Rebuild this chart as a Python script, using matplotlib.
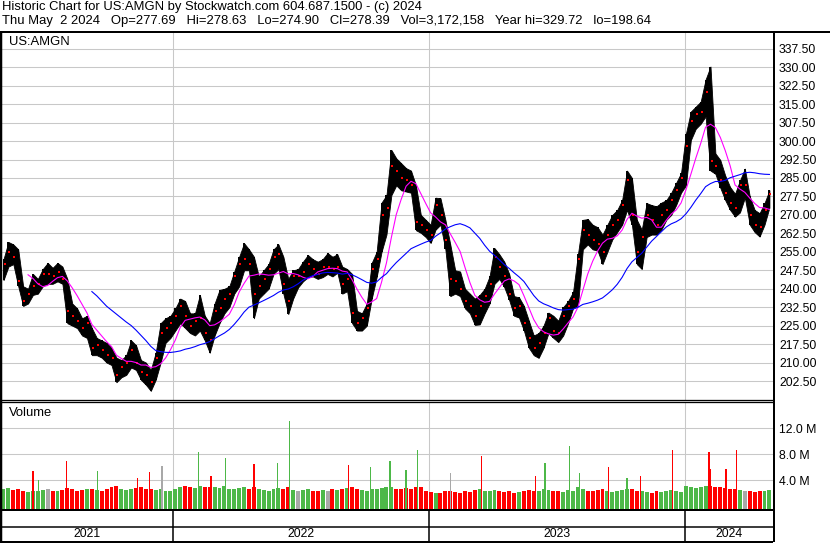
import matplotlib
matplotlib.use('Agg')
import matplotlib.pyplot as plt
import matplotlib.dates as mdates
from matplotlib.lines import Line2D
import numpy as np
import pandas as pd

# one bar per trading week, week of 2021-05-03 .. week of 2024-04-29
week_high = [252, 259, 258, 256, 241, 240, 246, 244, 248, 250.5,
             248.5, 250.5, 249, 244, 234, 232, 228, 229, 224, 220,
             219, 218, 216, 212, 211, 213, 219, 217, 211, 210,
             207, 214, 226, 228, 229, 232, 236, 235, 230, 230,
             237.5, 229, 226, 234, 239.5, 240, 241, 247, 253, 258.5,
             256, 253, 245, 247.5, 250, 256, 258, 253, 244, 247.5,
             248, 251, 253.7, 252, 251, 252, 254.5, 253, 254, 249,
             248, 246, 231, 230, 234, 250.5, 255, 275, 278, 296.4,
             293, 291, 289, 288, 282, 270, 268, 266, 277, 276.8,
             268, 258, 247.5, 247, 240, 238, 236, 237.5, 240, 245,
             256.5, 254, 251, 246, 237, 236.5, 233, 227, 221, 222,
             225, 230.3, 229, 227, 232.5, 235, 238.6, 254, 268, 268.3,
             266, 265, 262, 266, 270, 272, 276, 288, 285, 268,
             264, 274.8, 274, 273.5, 275, 276, 279, 283, 287, 303,
             312, 314, 316, 325, 330.3, 295, 292.3, 286, 281.3, 278.6,
             284, 288.8, 277.5, 272, 270.7, 274.8, 280]
week_low = [243.5, 249, 250, 241, 233, 234, 237.5, 238, 241, 242,
            242, 243, 242, 226, 225, 224, 221, 220, 213, 213,
            212, 210, 209, 202, 204, 205, 208, 207, 203, 201,
            198.5, 203, 210, 218, 220, 223, 226, 224, 222, 221,
            223, 219, 214, 221, 226, 230, 232.5, 238, 241, 247.5,
            247.5, 228, 236, 238, 240, 246, 248, 238, 229.7, 236,
            240.5, 243, 244.7, 245, 244, 244.7, 246, 245, 246.5, 238,
            239, 226, 223, 223, 225, 236, 244.7, 255, 262, 278,
            282, 280, 279.5, 279, 263.8, 262.7, 261, 258.6, 264, 266,
            256, 237, 238, 237, 232, 230, 225.3, 225.5, 230, 234,
            242, 244, 240.6, 235.4, 229, 228.3, 223, 216, 213, 211.9,
            216, 222, 220, 218.3, 221, 226, 232, 233, 256, 258,
            256, 255.5, 250, 255, 260, 263, 266, 272, 266, 250,
            248, 261, 262, 262, 264, 268, 270, 274, 279, 282,
            300.4, 305, 307, 310, 288, 286.7, 281, 276, 272, 269.3,
            271, 277, 266, 263, 261.2, 266, 273]
week_close = [250, 255, 253, 243, 235, 238, 241, 242, 246, 246,
              245, 247, 244, 231, 229, 227, 224, 226, 216, 217,
              215, 213, 212, 205, 208, 210, 215, 210, 206, 205,
              202, 212, 222, 224, 226, 229, 233, 229, 225, 227,
              228, 222, 219, 231, 232, 236, 238, 245, 250, 252,
              250, 238, 241, 244, 248, 253, 254, 242, 235, 245,
              245, 247, 250, 248, 246, 249, 249, 248, 249, 242,
              244, 230, 226, 228, 232, 248, 252, 270, 273, 290,
              288, 285, 284, 282, 267, 266, 264, 262, 274, 270,
              260, 244, 243, 240, 235, 233, 229, 233, 237, 242,
              253, 249, 245, 238, 232, 233, 226, 220, 216, 218,
              222, 228, 223, 222, 229, 233, 236, 252, 264, 262,
              260, 258, 255, 262, 266, 268, 274, 284, 270, 255,
              261, 270, 268, 266, 270, 272, 276, 280, 285, 298,
              308, 311, 312, 320, 292, 290, 284, 279, 275, 273,
              282, 282, 270, 266, 265, 272, 278.39]
# average daily volume of each week, millions
week_volume = [2.6, 2.8, 2.5, 2.7, 2.3, 2.2, 2.4, 2.3, 2.5, 2.6,
               2.4, 2.3, 2.5, 2.8, 2.6, 2.4, 2.5, 2.7, 2.6, 2.5,
               2.4, 2.6, 3.0, 3.1, 2.7, 2.5, 2.6, 2.8, 2.9, 2.6,
               2.7, 2.5, 2.6, 2.4, 2.3, 2.6, 2.9, 3.1, 3.0, 2.8,
               3.2, 3.0, 2.9, 3.0, 2.8, 3.1, 2.7, 2.6, 2.8, 2.9,
               2.7, 3.0, 2.6, 2.5, 2.4, 2.6, 2.8, 2.7, 2.9, 2.5,
               2.4, 2.5, 2.6, 2.3, 2.4, 2.5, 2.4, 2.6, 2.5, 2.7,
               2.8, 2.9, 2.6, 2.5, 2.4, 2.7, 2.6, 2.8, 3.0, 2.9,
               2.7, 2.6, 2.8, 2.7, 2.9, 3.0, 2.4, 2.2, 2.0, 2.1,
               2.3, 2.4, 2.2, 2.1, 2.3, 2.2, 2.5, 2.7, 2.4, 2.3,
               2.5, 2.4, 2.2, 2.3, 2.1, 2.2, 2.4, 2.5, 2.3, 2.4,
               2.6, 2.5, 2.3, 2.4, 2.2, 2.5, 2.4, 2.9, 2.6, 2.4,
               2.3, 2.5, 2.6, 2.4, 2.2, 2.3, 2.5, 2.6, 2.7, 2.4,
               2.3, 2.2, 2.1, 2.3, 2.2, 2.4, 2.5, 2.3, 2.2, 3.1,
               3.0, 2.8, 2.9, 3.1, 3.2, 2.9, 3.0, 2.8, 2.7, 2.6,
               2.5, 2.4, 2.3, 2.2, 2.4, 2.3, 2.5]

# heavy single sessions
spike_dates = ['2021-06-16', '2021-06-24', '2021-08-03', '2021-09-16', '2021-11-12',
               '2021-11-29', '2021-12-17', '2022-02-07', '2022-02-25', '2022-03-18',
               '2022-04-27', '2022-05-31', '2022-06-17', '2022-09-09', '2022-10-10',
               '2022-11-07', '2022-11-30', '2022-12-16', '2023-02-01', '2023-03-17',
               '2023-06-02', '2023-06-16', '2023-07-21', '2023-08-04', '2023-09-15',
               '2023-10-11', '2023-10-30', '2023-12-15', '2024-02-05', '2024-02-07',
               '2024-02-29', '2024-03-15']
spike_volume = [5.4, 4.0, 6.9, 5.4, 4.4, 5.3, 6.2, 8.3, 4.6, 7.5,
                6.5, 6.7, 13.1, 6.3, 6.1, 6.9, 5.6, 8.7, 5.2, 7.7,
                4.7, 6.6, 9.3, 5.1, 6.1, 4.4, 4.7, 8.7, 8.3, 5.7,
                5.7, 8.7]
spike_dir = ['dn', 'up', 'dn', 'up', 'dn', 'dn', 'eq', 'up', 'dn', 'up',
             'dn', 'up', 'up', 'dn', 'up', 'up', 'up', 'up', 'eq', 'dn',
             'dn', 'up', 'up', 'up', 'dn', 'up', 'dn', 'dn', 'dn', 'dn',
             'dn', 'dn']

price_ticks = np.arange(202.5, 340, 7.5)
volume_ticks = [4, 8, 12]
volume_labels = ['4.0 M', '8.0 M', '12.0 M']
years = ['2021', '2022', '2023', '2024']

RED, GREEN, GREY = '#ff0000', '#4db848', '#a8a8a8'
dir_color = {'up': GREEN, 'dn': RED, 'eq': GREY}

plt.rcParams['font.family'] = ['Liberation Sans', 'DejaVu Sans']
FS = 8.85     # axis labels
FS_HEAD = 9.36
W, H = 830, 543
fig = plt.figure(figsize=(W / 100, H / 100), dpi=100)

weeks = pd.date_range('2021-05-05', periods=len(week_close), freq='7D')
x = mdates.date2num(weeks)
hi = np.array(week_high)
lo = np.array(week_low)
cl = pd.Series(week_close)
ma_fast = cl.rolling(6).mean()
ma_slow = cl.rolling(19).mean()

day0 = mdates.date2num(pd.Timestamp('2021-04-30'))
px_per_day = 256 / 365
xlim = (day0 + 2 / px_per_day, day0 + 773 / px_per_day)
year_bounds = [mdates.date2num(pd.Timestamp(y + '-01-01')) for y in ['2022', '2023', '2024']]


def fax(left, top, right, bottom):
    return fig.add_axes([left / W, 1 - bottom / H, (right - left) / W, (bottom - top) / H])


def fline(x0, y0, x1, y1, lw=1.0):
    fig.add_artist(Line2D([x0 / W, x1 / W], [1 - y0 / H, 1 - y1 / H], transform=fig.transFigure,
                          lw=lw * 0.72, color='black', solid_capstyle='butt'))


def plain(ax):
    for s in ax.spines.values():
        s.set_visible(False)
    ax.set_xlim(*xlim)
    ax.set_xticks(year_bounds)
    ax.tick_params(axis='x', length=0, labelbottom=False)
    ax.tick_params(axis='y', length=0, labelleft=False, labelright=True, pad=4.3, labelsize=FS)
    ax.grid(True, color='#c8c8c8', lw=0.75)
    ax.set_axisbelow(True)


# price panel: high-low range of each week as a dense band
ax = fax(2, 32, 773, 400)
plain(ax)
ax.set_ylim(194.79, 344.32)
ax.set_yticks(price_ticks)
ax.set_yticklabels(['%.2f' % t for t in price_ticks])
ax.fill_between(x, lo, hi, color='black', lw=0.6)
ax.vlines(x, lo, hi, color='black', lw=1.4)
ax.plot(x + 1.5, cl, 's', color=RED, ms=1.5, mew=0)
ax.plot(x, ma_fast, color='#ff00ff', lw=0.8)
ax.plot(x, ma_slow, color='#0000ff', lw=0.8)

# volume panel
ax2 = fax(2, 402, 773, 509)
plain(ax2)
vmin = -0.415
ax2.set_ylim(vmin, 16.05)
ax2.set_yticks(volume_ticks)
ax2.set_yticklabels(volume_labels)
wk_dir = ['up'] + ['up' if b > a else ('dn' if b < a else 'eq') for a, b in zip(week_close[:-1], week_close[1:])]
ax2.bar(x, np.array(week_volume) - vmin, bottom=vmin, width=5.6,
        color=[dir_color[d] for d in wk_dir], lw=0)
sx = mdates.date2num(pd.to_datetime(spike_dates))
ax2.bar(sx, np.array(spike_volume) - vmin, bottom=vmin, width=1.8,
        color=[dir_color[d] for d in spike_dir], lw=0)

# date band
ax3 = fax(2, 510, 773, 541)
ax3.set_xlim(*xlim)
ax3.set_ylim(0, 1)
ax3.axis('off')
for b in year_bounds:
    ax3.axvline(b, color='black', lw=1.1)
edges = [xlim[0]] + year_bounds + [xlim[1]]
for i, y in enumerate(years):
    ax3.text((edges[i] + edges[i + 1]) / 2, 0.226, y, ha='center', va='center', fontsize=FS)

# frame lines
fline(0, 31.5, W, 31.5, 2)
fline(1, 31, 1, H, 2.5)
fline(773.8, 31, 773.8, 542, 2)
fline(0, 400.3, 773, 400.3, 1.3)
fline(0, 402.4, 773, 402.4, 1.3)
fline(0, 509.8, 773, 509.8, 2)
fline(0, 526.5, 773, 526.5, 1.5)
fline(0, 541.5, 773, 541.5, 2)

fig.text(2 / W, 1 - 7 / H, 'Historic Chart for US:AMGN by Stockwatch.com 604.687.1500 - (c) 2024',
         fontsize=FS_HEAD, va='center')
fig.text(2 / W, 1 - 21 / H, 'Thu May  2 2024   Op=277.69   Hi=278.63   Lo=274.90   Cl=278.39   '
         'Vol=3,172,158   Year hi=329.72   lo=198.64', fontsize=FS_HEAD, va='center')
fig.text(9 / W, 1 - 42 / H, 'US:AMGN', fontsize=FS_HEAD, va='center')
fig.text(9 / W, 1 - 413 / H, 'Volume', fontsize=FS_HEAD, va='center')

fig.savefig('out.png', dpi=100)
